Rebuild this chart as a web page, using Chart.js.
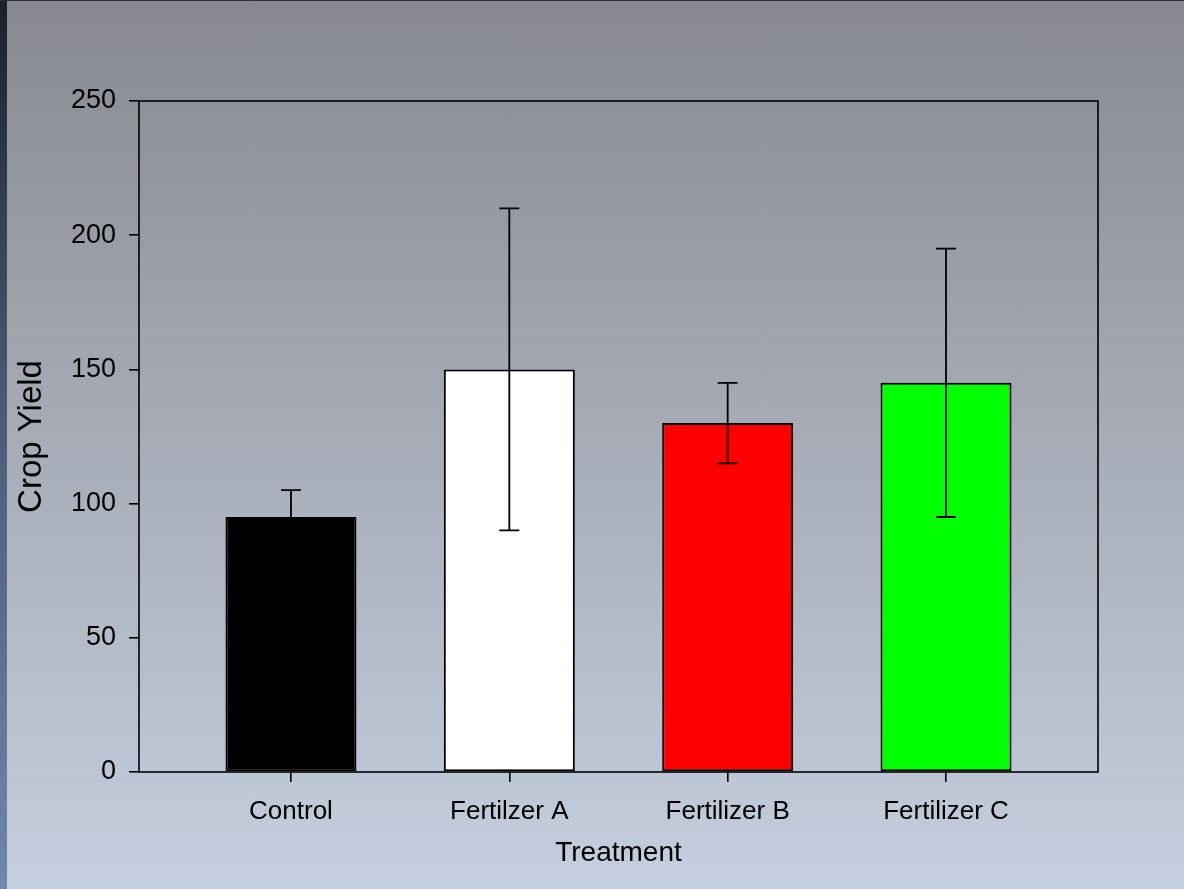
<!DOCTYPE html>
<html>
<head>
<meta charset="utf-8">
<script src="https://cdn.jsdelivr.net/npm/chart.js@4/dist/chart.umd.min.js"></script>
<style>
  html, body { margin: 0; padding: 0; }
  body {
    width: 1184px; height: 889px; overflow: hidden; position: relative;
    background: linear-gradient(to bottom, #87898f 0%, #a4a9b3 45%, #c4cfdf 100%);
  }
  #strip {
    position: absolute; left: 0; top: 0; width: 7px; height: 889px;
    background: linear-gradient(to bottom, #1b212c 0%, #4b5a72 45%, #6f88a8 100%);
  }
  #topline {
    position: absolute; left: 0; top: 0; width: 1184px; height: 1px; background: #2a2f38;
  }
  canvas { position: absolute; left: 0; top: 0; }
</style>
</head>
<body>
<div id="strip"></div>
<div id="topline"></div>
<canvas id="chart" width="1184" height="889"></canvas>
<script>
// Crop yield by treatment, mean with error
const categories = ['Control', 'Fertilzer A', 'Fertilizer B', 'Fertilizer C'];
const yieldMeans = [95, 150, 130, 145];
const yieldErrors = [10, 60, 15, 50];
const barColors = ['#000000', '#ffffff', '#ff0000', '#00ff00'];
const yTicks = [0, 50, 100, 150, 200, 250];

const FONT = "'Liberation Sans', Arial, Helvetica, sans-serif";

// Frame around the plotting area
const frame = {
  id: 'frame',
  afterDatasetsDraw(chart) {
    const {ctx, chartArea: a} = chart;
    ctx.save();
    ctx.strokeStyle = '#000';
    ctx.lineWidth = 1.6;
    ctx.strokeRect(a.left, a.top, a.right - a.left, a.bottom - a.top);
    ctx.restore();
  }
};

// Vertical error bars with caps
const errorBars = {
  id: 'errorBars',
  afterDatasetsDraw(chart) {
    const {ctx, scales: {x, y}} = chart;
    ctx.save();
    ctx.strokeStyle = '#000';
    ctx.lineWidth = 1.8;
    yieldMeans.forEach((m, i) => {
      const px = x.getPixelForValue(i);
      const top = y.getPixelForValue(m + yieldErrors[i]);
      const bot = y.getPixelForValue(m - yieldErrors[i]);
      ctx.beginPath();
      ctx.moveTo(px, top); ctx.lineTo(px, bot);
      ctx.moveTo(px - 10, top); ctx.lineTo(px + 10, top);
      ctx.moveTo(px - 10, bot); ctx.lineTo(px + 10, bot);
      ctx.stroke();
    });
    ctx.restore();
  }
};

new Chart(document.getElementById('chart'), {
  type: 'bar',
  data: {
    datasets: [{
      data: yieldMeans.map((v, i) => ({x: i, y: v})),
      backgroundColor: barColors,
      borderColor: '#000',
      borderWidth: 2,
      borderSkipped: false,
      barPercentage: 0.6,
      categoryPercentage: 1
    }]
  },
  options: {
    responsive: false,
    animation: false,
    devicePixelRatio: 1,
    layout: { padding: { left: 8, top: 101, right: 86, bottom: 0 } },
    plugins: { legend: { display: false }, tooltip: { enabled: false } },
    scales: {
      x: {
        type: 'linear',
        offset: false,
        min: -0.696,
        max: categories.length - 1 + 0.696,
        afterBuildTicks: s => { s.ticks = categories.map((_, i) => ({value: i})); },
        afterFit: s => { s.height = 117; },
        border: { display: false },
        grid: { offset: false, drawOnChartArea: false, drawTicks: true, tickLength: 10, color: '#000', lineWidth: 1.6 },
        ticks: {
          color: '#000', padding: 14, maxRotation: 0, autoSkip: false,
          font: { family: FONT, size: 26 },
          callback: v => categories[v]
        },
        title: {
          display: true, text: 'Treatment', color: '#000',
          font: { family: FONT, size: 28 }, padding: { bottom: 19 }
        }
      },
      y: {
        min: 0, max: 250,
        afterBuildTicks: s => { s.ticks = yTicks.map(v => ({value: v})); },
        afterFit: s => { s.width = 131; },
        border: { display: false },
        grid: { drawOnChartArea: false, drawTicks: true, tickLength: 10, color: '#000', lineWidth: 1.6 },
        ticks: { color: '#000', padding: 13, font: { family: FONT, size: 27 } },
        title: {
          display: true, text: 'Crop Yield', color: '#000',
          font: { family: FONT, size: 33 }, padding: { top: 4 }
        }
      }
    }
  },
  plugins: [frame, errorBars]
});
</script>
</body>
</html>
